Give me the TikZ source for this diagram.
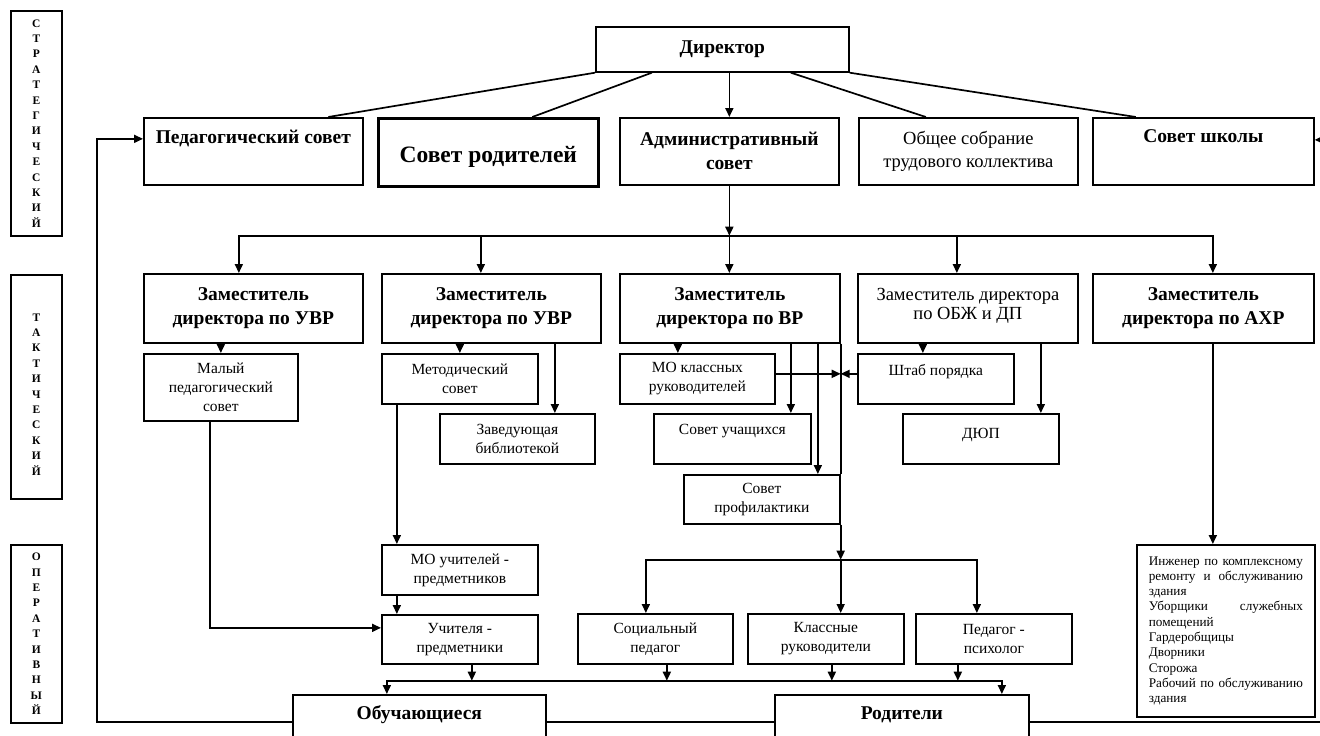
\documentclass[tikz,border=0pt]{standalone}
\usepackage{fontspec}
\setmainfont{Liberation Serif}
\usetikzlibrary{arrows.meta}
\newcommand{\hfnt}{\fontsize{19.5}{24}\selectfont\bfseries}
\newcommand{\bfnt}{\fontsize{23.5}{28}\selectfont\bfseries}
\newcommand{\nfnt}{\fontsize{18.5}{19}\selectfont}
\newcommand{\sfnt}{\fontsize{15.5}{19}\selectfont}
\newcommand{\tfnt}{\fontsize{13.2}{15.3}\selectfont}
\newcommand{\vfnt}{\fontsize{11.5}{15.4}\selectfont\bfseries}

\begin{document}
\begin{tikzpicture}[x=1pt,y=-1pt,line width=1.7pt,>={Triangle[length=9pt,width=8pt]}]
                        \tikzstyle{box}=[draw,rectangle,anchor=north west,align=center,inner sep=2pt]
                        \tikzstyle{hbox}=[box,font=\hfnt]
                        \tikzstyle{sbox}=[box,font=\sfnt,minimum width=156,minimum height=50]
                        \tikzstyle{lbl}=[box,font=\vfnt,minimum width=51]
                        \useasboundingbox[fill=white] (0,0) rectangle (1320,736);
                        \clip (0,0) rectangle (1320,736);
                        \node[lbl,minimum height=225] (strat) at (10,10) {С\\Т\\Р\\А\\Т\\Е\\Г\\И\\Ч\\Е\\С\\К\\И\\Й};
                        \node[lbl,minimum height=224] (takt) at (10,274) {\mbox{}\\[7pt]Т\\А\\К\\Т\\И\\Ч\\Е\\С\\К\\И\\Й};
                        \node[lbl,minimum height=178] (oper) at (10,544) {О\\П\\Е\\Р\\А\\Т\\И\\В\\Н\\Ы\\Й};
                        \node[hbox,minimum width=253,minimum height=45] (dir) at (595,26) {Директор};
                        \node[hbox,minimum width=219,minimum height=67,text depth=30pt] (ped) at (143,117) {Педагогический совет};
                        \node[box,font=\bfnt,minimum width=220,minimum height=68,line width=2.6pt,text height=26pt] (rod) at (377,117) {Совет родителей};
                        \node[hbox,minimum width=219,minimum height=67] (adm) at (619,117) {Административный\\совет};
                        \node[box,font=\nfnt,minimum width=219,minimum height=67] (obsh) at (858,117) {Общее собрание\\[4pt]трудового коллектива};
                        \node[hbox,minimum width=221,minimum height=67,text depth=30pt] (shk) at (1092,117) {Совет школы};
                        \node[hbox,minimum width=219,minimum height=69] (z1) at (143,273) {Заместитель\\директора по УВР};
                        \node[hbox,minimum width=219,minimum height=69] (z2) at (381,273) {Заместитель\\директора по УВР};
                        \node[hbox,minimum width=220,minimum height=69] (z3) at (619,273) {Заместитель\\директора по ВР};
                        \node[box,font=\nfnt,minimum width=220,minimum height=69,text depth=9pt] (z4) at (857,273) {Заместитель директора\\по ОБЖ и ДП};
                        \node[hbox,minimum width=221,minimum height=69] (z5) at (1092,273) {Заместитель\\директора по АХР};
                        \node[sbox,minimum width=154,minimum height=67] (malyi) at (143,353) {Малый\\педагогический\\совет};
                        \node[sbox] (metod) at (381,353) {Методический\\совет};
                        \node[sbox,minimum width=155] (zav) at (439,413) {Заведующая\\библиотекой};
                        \node[sbox,minimum width=155] (moklass) at (619,353) {МО классных\\руководителей};
                        \node[sbox,minimum width=157,text depth=19pt] (sovuch) at (653,413) {Совет учащихся};
                        \node[sbox,minimum height=49] (sovprof) at (683,474) {Совет\\профилактики};
                        \node[sbox,text depth=18pt] (shtab) at (857,353) {Штаб порядка};
                        \node[sbox,text depth=10pt] (dyup) at (902,413) {ДЮП};
                        \node[sbox] (mouch) at (381,544) {МО учителей -\\предметников};
                        \node[sbox,minimum height=49] (uchit) at (381,614) {Учителя -\\предметники};
                        \node[sbox,minimum width=155] (socped) at (577,613) {Социальный\\педагог};
                        \node[sbox] (klass) at (747,613) {Классные\\руководители};
                        \node[sbox] (psych) at (915,613) {Педагог -\\психолог};
                        \node[hbox,minimum width=253,minimum height=54,text depth=18pt] (obuch) at (292,694) {Обучающиеся};
                        \node[hbox,minimum width=254,minimum height=54,text depth=18pt] (rodit) at (774,694) {Родители};
                        \node[box,font=\tfnt,minimum width=178,minimum height=172,text width=154,align=justify] (ahr) at (1136,544) {Инженер по комплексному ремонту и обслуживанию здания\\Уборщики служебных помещений\\Гардеробщицы\\Дворники\\Сторожа\\Рабочий по обслуживанию здания};
                        \draw (dir.south west) -- ([xshift=75pt]ped.north);
                        \draw ([xshift=-70.5pt]dir.south) -- ([xshift=44pt]rod.north);
                        \draw[->] (dir.south -| adm.north) -- (adm.north);
                        \draw ([xshift=68.5pt]dir.south) -- ([xshift=-42.5pt]obsh.north);
                        \draw (dir.south east) -- ([xshift=-67.5pt]shk.north);
                        \coordinate (bus1) at ([yshift=-50pt]adm.south);
                        \draw[->] (adm.south) -- (bus1);
                        \draw[<->] ([xshift=-14.5pt]z1.north) |- (bus1) -| ([xshift=9.5pt]z5.north);
                        \draw[->] ([xshift=-10.5pt]z2.north |- bus1) -- ([xshift=-10.5pt]z2.north);
                        \draw[->] (bus1) -- (bus1 |- z3.north);
                        \draw[->] ([xshift=-11pt]z4.north |- bus1) -- ([xshift=-11pt]z4.north);
                        \draw[->] (malyi.north |- z1.south) -- (malyi.north);
                        \draw[->] (metod.north |- z2.south) -- (metod.north);
                        \draw[->] ([xshift=37.5pt]zav.north |- z2.south) -- ([xshift=37.5pt]zav.north);
                        \draw[->] ([xshift=-19.5pt]moklass.north |- z3.south) -- ([xshift=-19.5pt]moklass.north);
                        \draw[->] ([xshift=58.5pt]sovuch.north |- z3.south) -- ([xshift=58.5pt]sovuch.north);
                        \draw[->] ([xshift=56pt]sovprof.north |- z3.south) -- ([xshift=56pt]sovprof.north);
                        \draw (z3.south east) -- (sovprof.north east);
                        \draw[->] ([yshift=5pt]moklass.east) -- ([yshift=5pt]moklass.east -| z3.south east);
                        \draw[->] ([yshift=5pt]shtab.west) -- ([yshift=5pt]shtab.west -| z3.south east);
                        \draw[->] ([xshift=-13pt]shtab.north |- z4.south) -- ([xshift=-13pt]shtab.north);
                        \draw[->] ([xshift=60pt]dyup.north |- z4.south) -- ([xshift=60pt]dyup.north);
                        \draw[->] ([xshift=-13pt]ahr.north |- z5.south) -- ([xshift=-13pt]ahr.north);
                        \coordinate (bus2) at ([yshift=-35pt]sovprof.south east);
                        \draw[->] (sovprof.south east) -- (bus2);
                        \draw[<->] ([xshift=-9.5pt]socped.north) |- (bus2) -| ([xshift=-17pt]psych.north);
                        \draw[->] (bus2) -- (bus2 |- klass.north);
                        \draw[->] ([xshift=-63pt]metod.south) -- ([xshift=-63pt]mouch.north);
                        \draw[->] ([xshift=-63pt]mouch.south) -- ([xshift=-63pt]uchit.north);
                        \draw[->] ([xshift=-11pt]malyi.south) |- ([yshift=11.5pt]uchit.west);
                        \coordinate (bus3) at ([yshift=-16pt]uchit.south);
                        \draw[<->] ([xshift=-32.5pt]obuch.north) |- (bus3) -| ([xshift=100pt]rodit.north);
                        \draw[->] ([xshift=12pt]uchit.south) -- ([xshift=12pt]uchit.south |- bus3);
                        \draw[->] ([xshift=11.5pt]socped.south) -- ([xshift=11.5pt]socped.south |- bus3);
                        \draw[->] ([xshift=6pt]klass.south) -- ([xshift=6pt]klass.south |- bus3);
                        \draw[->] ([xshift=-36pt]psych.south) -- ([xshift=-36pt]psych.south |- bus3);
                        \draw[->] (obuch.west) -| ([xshift=-46pt,yshift=12.5pt]ped.west) -- ([yshift=12.5pt]ped.west);
                        \draw (obuch.east) -- (rodit.west);
                        \draw[->] (rodit.east) -| ([xshift=12pt,yshift=11.5pt]shk.east) -- ([yshift=11.5pt]shk.east);
                    \end{tikzpicture}
\end{document}
